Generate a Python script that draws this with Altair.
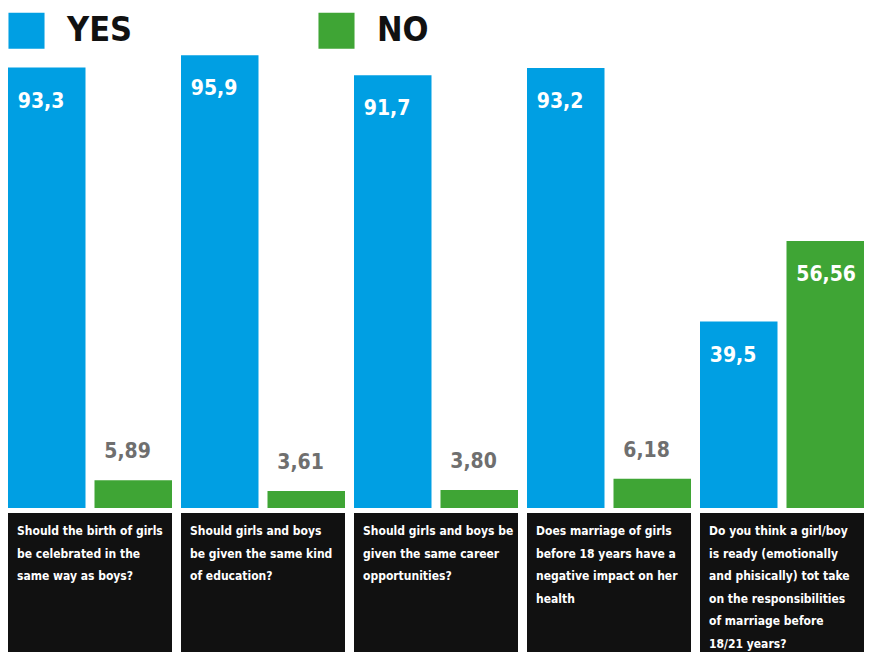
import altair as alt
import pandas as pd

questions = [
    "Should the birth of girls\nbe celebrated in the\nsame way as boys?",
    "Should girls and boys\nbe given the same kind\nof education?",
    "Should girls and boys be\ngiven the same career\nopportunities?",
    "Does marriage of girls\nbefore 18 years have a\nnegative impact on her\nhealth",
    "Do you think a girl/boy\nis ready (emotionally\nand phisically) tot take\non the responsibilities\nof marriage before\n18/21 years?",
]
groups = ["Q1", "Q2", "Q3", "Q4", "Q5"]
answers = ["YES", "NO"]
yes_values = [93.3, 95.9, 91.7, 93.2, 39.5]
no_values = [5.89, 3.61, 3.80, 6.18, 56.56]

rows = []
for g, y, n in zip(groups, yes_values, no_values):
    rows.append({"group": g, "answer": "YES", "value": y,
                 "label": f"{y:.1f}".replace(".", ",")})
    rows.append({"group": g, "answer": "NO", "value": n,
                 "label": f"{n:.2f}".replace(".", ",")})
df = pd.DataFrame(rows)
df["inside"] = df["value"] > 20
qdf = pd.DataFrame({"group": groups, "question": questions})

FONT = "DejaVu Sans Condensed, DejaVu Sans, sans-serif"
BLUE = "#009FE3"
GREEN = "#3FA535"
W = 856
NOVIEW = alt.ViewBackground(stroke="transparent", strokeWidth=0)

xscale = alt.Scale(domain=groups, paddingInner=9 / 173, paddingOuter=0)
x = alt.X("group:N", scale=xscale, axis=None)
xoff = alt.XOffset("answer:N", scale=alt.Scale(domain=answers, paddingInner=9 / 86.5, paddingOuter=0))
yscale = alt.Scale(domain=[0, 100], nice=False)

base = alt.Chart(df)
bars = base.mark_bar().encode(
    x=x,
    xOffset=xoff,
    y=alt.Y("value:Q", scale=yscale, axis=None),
    color=alt.Color("answer:N", scale=alt.Scale(domain=answers, range=[BLUE, GREEN]),
                    legend=alt.Legend(title=None, orient="none", legendX=0, legendY=-24,
                                      direction="horizontal", symbolType="square",
                                      symbolSize=1300, symbolStrokeWidth=0, symbolOpacity=1,
                                      labelFontSize=34, labelFont=FONT, labelFontWeight="bold",
                                      labelColor="#111111", labelOffset=22, columnPadding=185)),
)
inside = base.transform_filter("datum.inside").mark_text(
    align="left", baseline="top", dx=-29, dy=23, font=FONT, fontSize=21,
    fontWeight="bold", color="white"
).encode(x=x, xOffset=xoff, y=alt.Y("value:Q", scale=yscale), text="label:N")
outside = base.transform_filter("!datum.inside").mark_text(
    align="left", baseline="alphabetic", dx=-29, dy=-22, font=FONT, fontSize=21,
    fontWeight="bold", color="#6F6F6F"
).encode(x=x, xOffset=xoff, y=alt.Y("value:Q", scale=yscale), text="label:N")

top = alt.layer(bars, inside, outside).properties(width=W, height=472, view=NOVIEW)

boxes = alt.Chart(qdf).mark_rect(color="#111111").encode(x=x)
qtext = alt.Chart(qdf).mark_text(
    align="left", baseline="top", dx=9, font=FONT, fontSize=12, fontWeight="bold",
    color="white", lineBreak="\n", lineHeight=22.5
).encode(x=alt.X("group:N", scale=xscale, axis=None, bandPosition=0),
         y=alt.value(13), text="question:N")
bottom = alt.layer(boxes, qtext).properties(width=W, height=139, view=NOVIEW)

chart = alt.vconcat(top, bottom, spacing=5).properties(
    padding={"top": 4, "left": 0, "right": 0, "bottom": 0}
).configure_view(stroke="transparent", strokeWidth=0).configure(
    background="white", style={"cell": {"stroke": "transparent", "strokeWidth": 0}})
chart.save("out.html", embed_options={"renderer": "svg", "actions": False})
